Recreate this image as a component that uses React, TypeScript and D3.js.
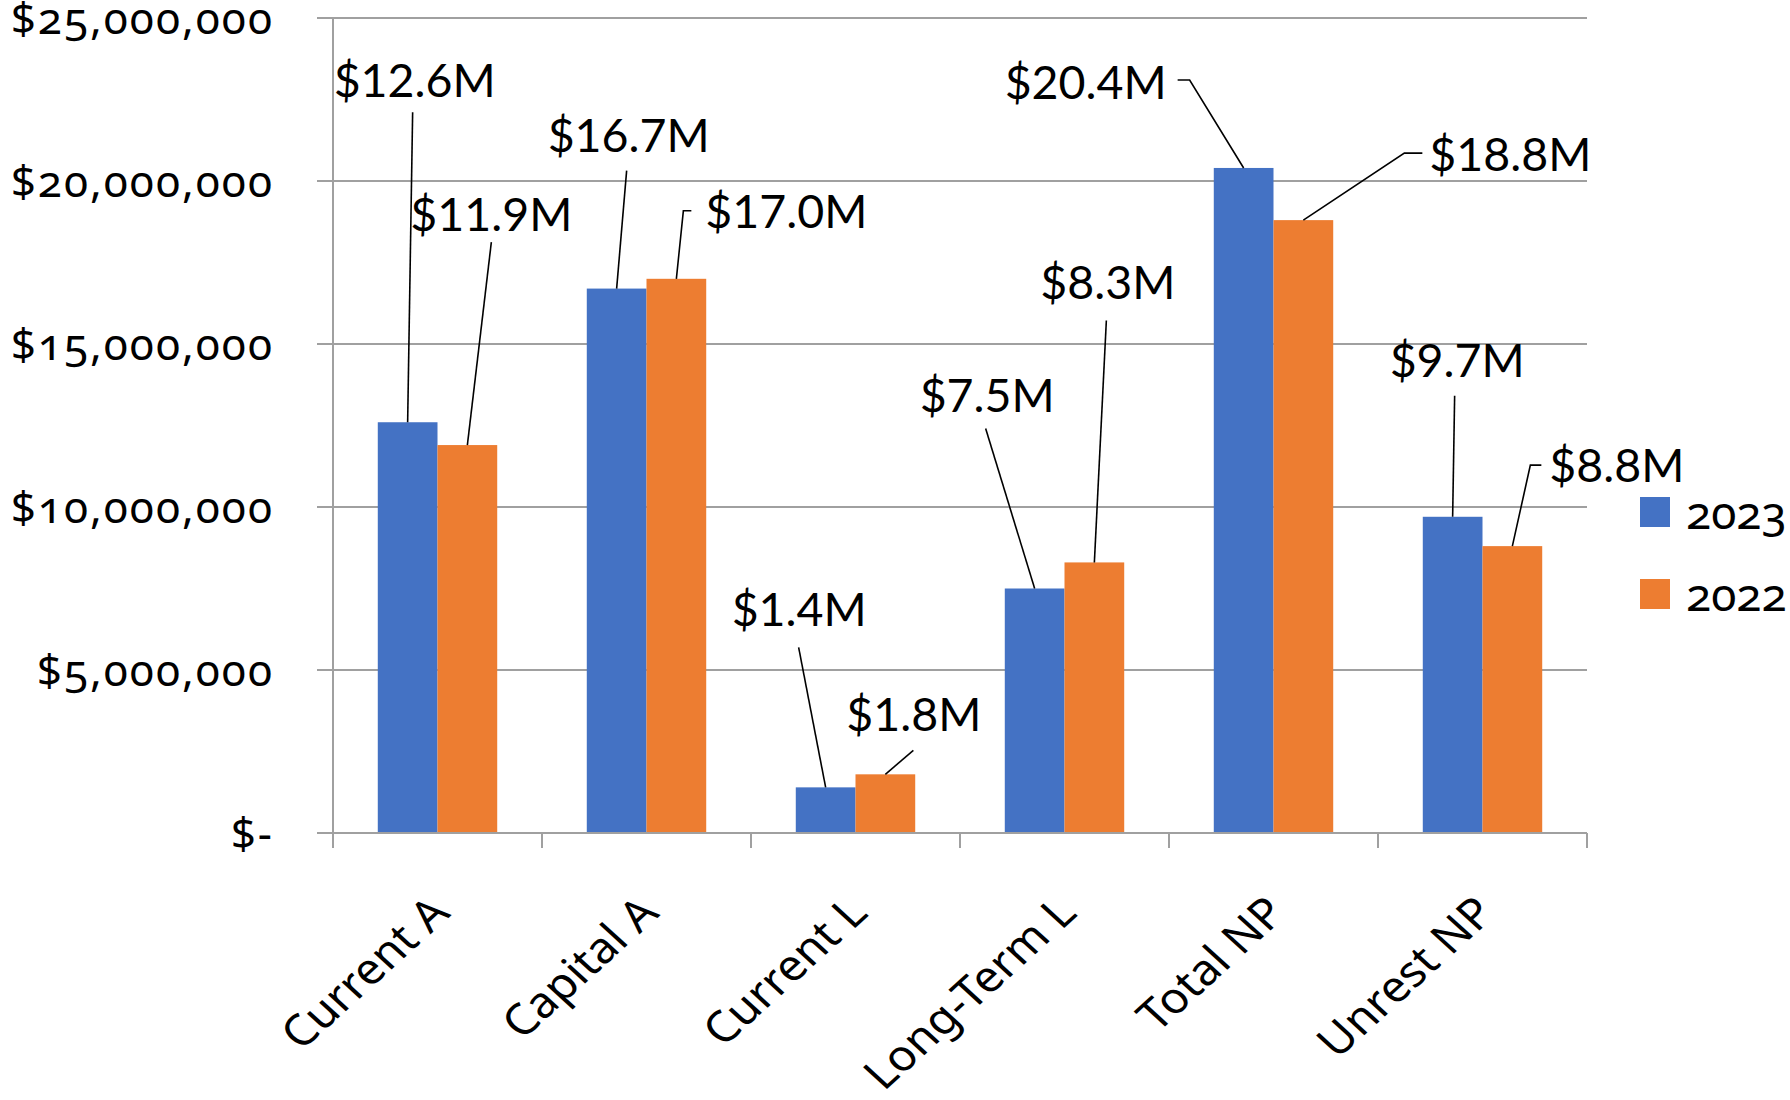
import React from "react";
import * as d3 from "d3";

const categories = ["Current A", "Capital A", "Current L", "Long-Term L", "Total NP", "Unrest NP"];
const seriesNames = ["2023", "2022"];
const values2023 = [12.6e6, 16.7e6, 1.4e6, 7.5e6, 20.4e6, 9.7e6];
const values2022 = [11.9e6, 17.0e6, 1.8e6, 8.3e6, 18.8e6, 8.8e6];
const labels2023 = ["$12.6M", "$16.7M", "$1.4M", "$7.5M", "$20.4M", "$9.7M"];
const labels2022 = ["$11.9M", "$17.0M", "$1.8M", "$8.3M", "$18.8M", "$8.8M"];
const yTicks = [0, 5e6, 10e6, 15e6, 20e6, 25e6];
const yTickLabels = ["$-", "$5,000,000", "$10,000,000", "$15,000,000", "$20,000,000", "$25,000,000"];

// label layout (offsets from bar top centre): text left/baseline, leader start, optional elbow
const labelLayout2023 = [
  { tx: -74, ty: -325, sx: 5, sy: -310 },
  { tx: -69, ty: -137, sx: 10, sy: -118 },
  { tx: -94, ty: -161, sx: -27, sy: -140 },
  { tx: -115, ty: -177, sx: -49, sy: -160 },
  { tx: -239, ty: -69, sx: -66, sy: -88, ex: -54, ey: -88 },
  { tx: -63, ty: -140, sx: 2, sy: -121 },
];
const labelLayout2022 = [
  { tx: -57, ty: -214, sx: 24, sy: -203 },
  { tx: 29, ty: -51, sx: 15, sy: -68, ex: 7, ey: -68 },
  { tx: -39, ty: -43, sx: 28, sy: -24 },
  { tx: -54, ty: -263, sx: 12, sy: -242 },
  { tx: 126, ty: -49, sx: 119, sy: -67, ex: 101, ey: -67 },
  { tx: 37, ty: -64, sx: 29, sy: -81, ex: 18, ey: -81 },
];

const colors = ["#4472C4", "#ED7D31"];
const W = 1790;
const H = 1100;
const M = { left: 333, right: 203, top: 18, bottom: 267 };

export default function App() {
  const x0 = d3
    .scaleBand<string>()
    .domain(categories)
    .range([M.left, W - M.right])
    .paddingInner(0)
    .paddingOuter(0);
  const bw = x0.bandwidth();
  const x1 = d3
    .scaleBand<string>()
    .domain(seriesNames)
    .range([0, bw])
    .paddingInner(0)
    .paddingOuter(0.75);
  const y = d3.scaleLinear().domain([0, 25e6]).range([H - M.bottom, M.top]);
  const y0 = y(0);
  const axisFont = "'Noto Sans', 'Open Sans', sans-serif";
  const labelFont = "Lato, 'Open Sans', sans-serif";
  const gridColor = "#a0a0a0";

  const series = [
    { name: seriesNames[0], values: values2023, labels: labels2023, layout: labelLayout2023 },
    { name: seriesNames[1], values: values2022, labels: labels2022, layout: labelLayout2022 },
  ];

  return (
    <svg
      width={W}
      height={H}
      style={{ position: "absolute", left: 0, top: 0, background: "#fff" }}
    >
      {/* gridlines + y labels */}
      {yTicks.map((t, i) => (
        <g key={t}>
          <line
            x1={M.left - 16}
            x2={W - M.right}
            y1={y(t)}
            y2={y(t)}
            stroke={gridColor}
            strokeWidth={2}
          />
          <text
            x={274}
            y={y(t) + 16}
            textAnchor="end"
            fontFamily={axisFont}
            fontSize={44}
            letterSpacing={2}
            style={{ fontVariantNumeric: "oldstyle-nums" }}
            fill="#000"
          >
            {yTickLabels[i]}
          </text>
        </g>
      ))}
      {/* y axis line */}
      <line x1={M.left} x2={M.left} y1={M.top} y2={y0 + 15} stroke={gridColor} strokeWidth={2} />
      {/* category boundary ticks */}
      {categories.map((c) => (
        <line
          key={c}
          x1={(x0(c) as number) + bw}
          x2={(x0(c) as number) + bw}
          y1={y0}
          y2={y0 + 15}
          stroke={gridColor}
          strokeWidth={2}
        />
      ))}
      {/* bars */}
      {series.map((s, si) =>
        categories.map((c, ci) => (
          <rect
            key={s.name + c}
            x={(x0(c) as number) + (x1(s.name) as number)}
            y={y(s.values[ci])}
            width={x1.bandwidth()}
            height={y0 - y(s.values[ci])}
            fill={colors[si]}
          />
        ))
      )}
      {/* bottom axis line */}
      <line x1={M.left} x2={W - M.right} y1={y0} y2={y0} stroke={gridColor} strokeWidth={2} />
      {/* data labels with leader lines */}
      {series.map((s) =>
        categories.map((c, ci) => {
          const bx = (x0(c) as number) + (x1(s.name) as number) + x1.bandwidth() / 2;
          const by = y(s.values[ci]);
          const L = s.layout[ci];
          const pts: [number, number][] = [[bx + L.sx, by + L.sy]];
          if (L.ex !== undefined) pts.push([bx + L.ex, by + (L.ey as number)]);
          pts.push([bx, by]);
          return (
            <g key={"lbl" + s.name + c}>
              <path d={d3.line()(pts) as string} fill="none" stroke="#000" strokeWidth={1.6} />
              <text
                x={bx + L.tx}
                y={by + L.ty}
                fontFamily={labelFont}
                fontSize={46.5}
                fill="#000"
              >
                {s.labels[ci]}
              </text>
            </g>
          );
        })
      )}
      {/* category labels */}
      {categories.map((c) => {
        const cx = (x0(c) as number) + bw / 2;
        return (
          <text
            key={"cat" + c}
            transform={`translate(${cx + 14},${y0 + 82}) scale(1.1,1) rotate(-45)`}
            textAnchor="end"
            fontFamily={axisFont}
            fontSize={43}
            fill="#000"
          >
            {c}
          </text>
        );
      })}
      {/* legend */}
      {series.map((s, si) => (
        <g key={"leg" + s.name} transform={`translate(1640,${497 + si * 82})`}>
          <rect width={30} height={30} fill={colors[si]} />
          <text
            x={46}
            y={15}
            dy="0.38em"
            fontFamily={axisFont}
            fontSize={46}
            style={{ fontVariantNumeric: "oldstyle-nums" }}
            fill="#000"
          >
            {s.name}
          </text>
        </g>
      ))}
    </svg>
  );
}
